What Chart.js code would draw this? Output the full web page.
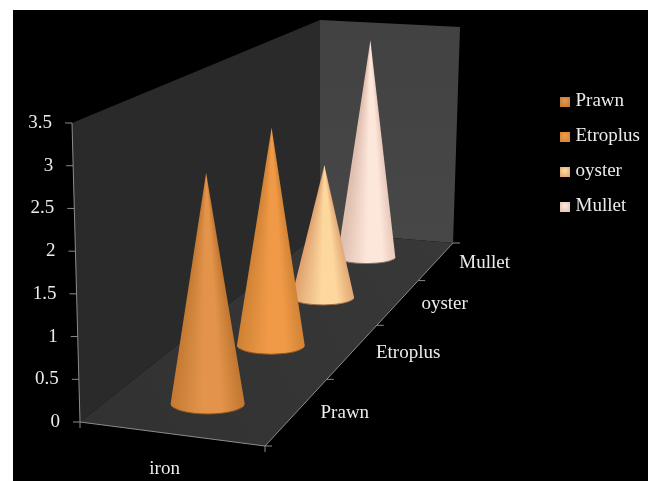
<!DOCTYPE html>
<html>
<head>
<meta charset="utf-8">
<title>Cone chart</title>
<style>
  html, body { margin: 0; padding: 0; background: #fff; }
  #wrap { position: relative; width: 651px; height: 481px; }
</style>
<script src="https://cdn.jsdelivr.net/npm/chart.js@4"></script>
</head>
<body>
<div id="wrap"><canvas id="cones" width="651" height="481"></canvas></div>
<script>
const categories = ['iron'];
const seriesNames = ['Prawn', 'Etroplus', 'oyster', 'Mullet'];
const seriesValues = [[2.85], [2.95], [1.95], [3.45]];
const yTickStep = 0.5;
const yMax = 3.5;

// edge, centre and rim colour of each cone
const coneShades = [
  ['#c27831', '#e3944a', '#8a5018'],
  ['#d08234', '#f09a48', '#95561e'],
  ['#e0a26f', '#fcd79e', '#a06f46'],
  ['#e0bfb0', '#fde7db', '#8a7468'],
];

const FONT = '"Liberation Serif", "Times New Roman", serif';
const TEXT_COLOR = '#ececec';
const LINE_COLOR = '#8c8c8c';

// box corners on screen
const floorFL = [80, 422];
const floorFR = [265, 446];
const floorBR = [453, 243];
const floorBL = [320, 232];
const wallTopFL = [72, 123];
const wallTopBL = [320, 20];
const wallTopBR = [460, 27];

// maps the unit floor square (u across, d into the depth) onto the screen
const makeFloorMap = () => {
  const [x0, y0] = floorFL, [x1, y1] = floorFR, [x2, y2] = floorBR, [x3, y3] = floorBL;
  const dx1 = x1 - x2, dx2 = x3 - x2, sx = x0 - x1 + x2 - x3;
  const dy1 = y1 - y2, dy2 = y3 - y2, sy = y0 - y1 + y2 - y3;
  const den = dx1 * dy2 - dx2 * dy1;
  const g = (sx * dy2 - dx2 * sy) / den;
  const h = (dx1 * sy - sx * dy1) / den;
  const a = x1 - x0 + g * x1, b = x3 - x0 + h * x3;
  const d = y1 - y0 + g * y1, e = y3 - y0 + h * y3;
  return (u, v) => {
    const w = g * u + h * v + 1;
    return [(a * u + b * v + x0) / w, (d * u + e * v + y0) / w];
  };
};
const floorAt = makeFloorMap();

const polygon = (ctx, points, fill) => {
  ctx.beginPath();
  points.forEach((p, i) => (i ? ctx.lineTo(p[0], p[1]) : ctx.moveTo(p[0], p[1])));
  ctx.closePath();
  ctx.fillStyle = fill;
  ctx.fill();
};

const segment = (ctx, x1, y1, x2, y2) => {
  ctx.beginPath();
  ctx.moveTo(x1, y1);
  ctx.lineTo(x2, y2);
  ctx.stroke();
};

// one cone standing on the floor, its height
const drawCone = (ctx, chart, index) => {
  const y = chart.scales.y;
  const depth = (index + 0.5) / seriesNames.length;
  const [cx, floorY] = floorAt(0.5, depth);
  const cy = floorY + 4 - 2 * depth;
  const a = Math.abs(floorAt(0.71, depth)[0] - floorAt(0.29, depth)[0]) / 2;
  const b = a * (0.29 - 0.08 * depth);
  const shrink = 1 - 0.29 * (floorFL[1] + 12 - floorY) / (floorFL[1] + 12 - floorBL[1] - 5);
  const value = seriesValues[index][0];
  const h = (y.getPixelForValue(0) - y.getPixelForValue(value)) * shrink;
  const tipX = cx + (cx - 249) * 0.000158 * h;
  const tipY = cy - h;
  const [edge, centre, rim] = coneShades[index];

  const spread = Math.atan2(a, h);
  const range = 2 * spread / (2 * Math.PI);
  const shade = ctx.createConicGradient(Math.PI / 2 - spread, tipX, tipY);
  shade.addColorStop(0, edge);
  shade.addColorStop(range * 0.3, centre);
  shade.addColorStop(range * 0.55, centre);
  shade.addColorStop(range, edge);
  shade.addColorStop(Math.min(1, range + 0.01), edge);

  ctx.beginPath();
  ctx.moveTo(tipX, tipY);
  ctx.lineTo(cx + a, cy);
  ctx.ellipse(cx, cy, a, b, 0, 0, Math.PI);
  ctx.closePath();
  ctx.fillStyle = shade;
  ctx.fill();

  ctx.beginPath();
  ctx.ellipse(cx, cy, a - 0.5, b, 0, Math.PI * 0.12, Math.PI * 0.88);
  ctx.strokeStyle = rim;
  ctx.lineWidth = 1;
  ctx.stroke();
};

const swatches = coneShades.map(([edge, centre]) => {
  const c = document.createElement('canvas');
  c.width = 10;
  c.height = 10;
  const sctx = c.getContext('2d');
  const grad = sctx.createRadialGradient(5, 4, 1, 5, 5, 7);
  grad.addColorStop(0, centre);
  grad.addColorStop(1, edge);
  sctx.fillStyle = grad;
  sctx.fillRect(0, 0, 10, 10);
  return c;
});

const box3d = {
  id: 'box3d',
  beforeDraw(chart) {
    const { ctx } = chart;
    ctx.save();
    ctx.fillStyle = '#000';
    ctx.fillRect(13, 10, 635, 471);
    ctx.restore();
  },
  afterLayout(chart) {
    // legend sits beside the upper half of the box
    const legend = chart.legend;
    legend.left = 548;
    legend.right = 651;
    legend.top = 76;
    legend.bottom = 240;
  },
  beforeDatasetsDraw(chart) {
    const { ctx } = chart;
    const y = chart.scales.y;
    const x = chart.scales.x;
    ctx.save();

    polygon(ctx, [floorFL, wallTopFL, wallTopBL, floorBL], '#2a2a2a');
    const back = ctx.createLinearGradient(0, wallTopBL[1], 0, floorBR[1]);
    back.addColorStop(0, '#424242');
    back.addColorStop(1, '#474747');
    polygon(ctx, [floorBL, wallTopBL, wallTopBR, floorBR], back);
    const floor = ctx.createLinearGradient(floorFL[0], floorFR[1], floorBR[0], floorBR[1]);
    floor.addColorStop(0, '#313131');
    floor.addColorStop(1, '#383838');
    polygon(ctx, [floorFL, floorFR, floorBR, floorBL], floor);

    ctx.strokeStyle = LINE_COLOR;
    ctx.lineWidth = 1;
    segment(ctx, floorFL[0], floorFL[1], wallTopFL[0], wallTopFL[1]);
    segment(ctx, floorFL[0], floorFL[1], floorFR[0], floorFR[1]);
    segment(ctx, floorFR[0], floorFR[1], floorBR[0], floorBR[1]);

    ctx.fillStyle = TEXT_COLOR;
    ctx.font = '19px ' + FONT;
    ctx.textBaseline = 'middle';

    // value axis follows the slanted front edge of the wall
    ctx.textAlign = 'right';
    y.ticks.forEach((tick) => {
      const py = y.getPixelForValue(tick.value);
      const ax = floorFL[0] + (wallTopFL[0] - floorFL[0]) * tick.value / yMax;
      segment(ctx, ax - 7, py, ax, py);
      ctx.fillText(String(tick.value), ax - 20, py);
    });

    // series axis along the right floor edge
    ctx.textAlign = 'left';
    for (let i = 0; i <= seriesNames.length; i++) {
      const [tx, ty] = floorAt(1, i / seriesNames.length);
      segment(ctx, tx, ty, tx + 7, ty);
      if (i < seriesNames.length) {
        const [lx, ly] = floorAt(1, (i + 0.5) / seriesNames.length);
        ctx.fillText(seriesNames[i], lx + 23, ly + 2);
      }
    }

    // category axis along the front floor edge
    segment(ctx, floorFL[0], floorFL[1], floorFL[0], floorFL[1] + 6);
    segment(ctx, floorFR[0], floorFR[1], floorFR[0], floorFR[1] + 6);
    ctx.textAlign = 'center';
    const mid = floorAt(0.5, 0);
    ctx.fillText(x.getLabelForValue(0), mid[0] - 6, mid[1] + 35);

    ctx.restore();
  },
  beforeDatasetDraw(chart, args) {
    drawCone(chart.ctx, chart, args.index);
    return false;
  },
};

const config = {
  type: 'bar',
  data: {
    labels: categories,
    datasets: seriesNames.map((name, i) => ({ label: name, data: seriesValues[i] })),
  },
  options: {
    responsive: false,
    animation: false,
    layout: { padding: { left: 72, top: 123, bottom: 59, right: 0 } },
    scales: {
      x: { display: false },
      y: { display: false, min: 0, max: yMax, ticks: { stepSize: yTickStep } },
    },
    plugins: {
      tooltip: { enabled: false },
      title: { display: false },
      legend: {
        position: 'right',
        align: 'start',
        labels: {
          color: TEXT_COLOR,
          font: { family: FONT, size: 19 },
          usePointStyle: true,
          boxWidth: 2,
          boxHeight: 10,
          padding: 16,
          generateLabels: () => seriesNames.map((text, i) => ({
            text,
            datasetIndex: i,
            pointStyle: swatches[i],
            fontColor: TEXT_COLOR,
            lineWidth: 0,
            hidden: false,
          })),
        },
      },
    },
  },
  plugins: [box3d],
};

new Chart(document.getElementById('cones').getContext('2d'), config);
</script>
</body>
</html>
